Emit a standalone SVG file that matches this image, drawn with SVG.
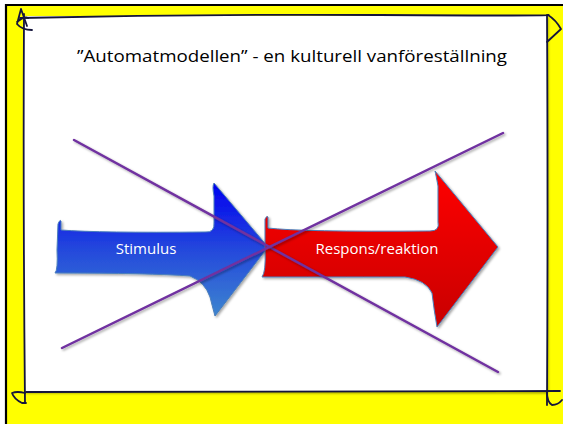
<svg xmlns="http://www.w3.org/2000/svg" width="563" height="424" viewBox="0 0 563 424">
<defs>
<linearGradient id="gBlue" x1="0" y1="0" x2="0" y2="1">
<stop offset="0" stop-color="#0000f0"/>
<stop offset="0.5" stop-color="#2448dc"/>
<stop offset="1" stop-color="#3d85cf"/>
</linearGradient>
<linearGradient id="gRed" x1="0" y1="0" x2="0" y2="1">
<stop offset="0" stop-color="#ff0000"/>
<stop offset="1" stop-color="#c80000"/>
</linearGradient>
<filter id="sh" x="-5%" y="-5%" width="110%" height="110%">
<feDropShadow dx="1.5" dy="1.5" stdDeviation="1.2" flood-color="#000" flood-opacity="0.35"/>
</filter>
</defs>
<style>
.frame{fill:none;stroke:#14143c;stroke-width:1.8;stroke-linecap:round;stroke-linejoin:round}
.cross{stroke:#7030a0;stroke-width:2.5;stroke-linecap:round}
.lbl{font-family:"Open Sans","Liberation Sans",sans-serif;font-size:15px;fill:#ffffff;text-anchor:middle}
.arrow{stroke:#4a7ebb;stroke-width:1}
</style>
<rect x="0" y="0" width="563" height="424" fill="#ffffff"/>
<rect x="6" y="5" width="557" height="419" fill="#ffff00"/>
<path d="M6 424 V5 H563" fill="none" stroke="#000" stroke-width="2.2"/>
<g id="panel">
<rect x="24" y="16" width="523" height="376" fill="#ffffff" filter="url(#sh)"/>
<path class="frame" d="M20 18 Q200 14 380 15 T548 15"/>
<path class="frame" d="M24 14 Q23 200 25 403"/>
<path class="frame" d="M26 392 Q300 391 560 391"/>
<path class="frame" d="M547 15 Q548 200 547 405"/>
<path class="frame" d="M21 9 L17 24 Q22 30 32 30 M21 9 L27 26 M17 22 Q24 16 28 18"/>
<path class="frame" d="M547 42 L561 29 M548 15 Q556 20 561 29"/>
<path class="frame" d="M25 393 Q17 391 12 393 Q14 399 22 403 L26 403"/>
<path class="frame" d="M547 392 Q547 402 552 405 Q558 405 562 400"/>
</g>
<g id="title">
<text x="292" y="62" font-family="'Open Sans','DejaVu Sans',sans-serif" font-size="17" fill="#000" text-anchor="middle" textLength="430" lengthAdjust="spacingAndGlyphs">”Automatmodellen” - en kulturell vanföreställning</text>
</g>
<g id="stimulus">
<path class="arrow" filter="url(#sh)" fill="url(#gBlue)" d="M58 224 Q60 219 61 221 L61 230 Q100 233 205 232 Q215 233 214 222 L214 196 Q212 186 214 183 L268 247 L215 316 Q212 305 210 297 Q205 282 190 276 Q150 273 55 273 Q58 270 57 250 Z"/>
<text class="lbl" x="146" y="254">Stimulus</text>
</g>
<g id="respons">
<path class="arrow" filter="url(#sh)" fill="url(#gRed)" d="M265 219 Q267 215 268 217 L268 228 Q300 232 430 231 Q440 231 438 222 L438 186 Q436 175 435 171 L498 247 L437 327 Q434 310 432 293 Q426 280 405 277 Q360 277 262 277 Q266 272 265 250 Z"/>
<text class="lbl" x="377" y="254">Respons/reaktion</text>
</g>
<g id="connectors">
<line class="cross" x1="74" y1="140" x2="498" y2="372" filter="url(#sh)"/>
<line class="cross" x1="62" y1="348" x2="503" y2="133" filter="url(#sh)"/>
</g>
</svg>
